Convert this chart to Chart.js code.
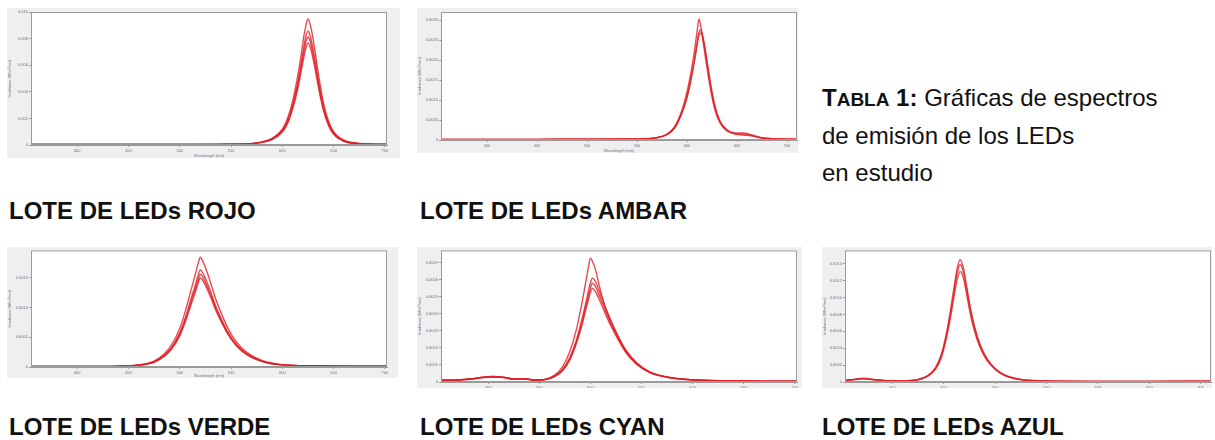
<!DOCTYPE html>
<html>
<head>
<meta charset="utf-8">
<script src="https://cdn.jsdelivr.net/npm/chart.js@4"></script>
<style>
    body { margin: 0; background: #fff; width: 1215px; height: 440px; position: relative; overflow: hidden;
           font-family: 'Liberation Sans', Arial, sans-serif; }
    .panel { position: absolute; background: #efefef; }
    .panel canvas { display: block; }
    .label { position: absolute; font-weight: bold; font-size: 24px; line-height: 24px; color: #111; white-space: nowrap; }
    .caption { position: absolute; font-size: 24px; line-height: 24px; color: #111; white-space: nowrap; }
    .caption b .sc { font-size: 19px; }
</style>
</head>
<body>

<div class="panel" style="left:7px;top:8px;"><canvas id="rojoChart" width="393" height="150"></canvas></div>
<div class="panel" style="left:417px;top:8px;"><canvas id="ambarChart" width="381" height="145"></canvas></div>
<div class="panel" style="left:7px;top:247px;"><canvas id="verdeChart" width="391" height="131"></canvas></div>
<div class="panel" style="left:417px;top:247px;"><canvas id="cyanChart" width="385" height="141"></canvas></div>
<div class="panel" style="left:822px;top:247px;"><canvas id="azulChart" width="390" height="141"></canvas></div>

<div class="label" style="left:9px;top:199px;">LOTE DE LEDs ROJO</div>
<div class="label" style="left:420px;top:199px;">LOTE DE LEDs AMBAR</div>
<div class="label" style="left:9px;top:415px;">LOTE DE LEDs VERDE</div>
<div class="label" style="left:420px;top:415px;">LOTE DE LEDs CYAN</div>
<div class="label" style="left:822px;top:415px;">LOTE DE LEDs AZUL</div>

<div class="caption" style="left:822px;top:86px;"><b>T<span class="sc">ABLA</span> 1:</b> Gráficas de espectros</div>
<div class="caption" style="left:822px;top:124px;">de emisión de los LEDs</div>
<div class="caption" style="left:822px;top:161px;">en estudio</div>

<script>
// eje x común (nm)
const xTicks = [400, 450, 500, 550, 600, 650, 700];
const xTitle = 'Wavelength (nm)';
const yTitle = 'Irradiance (W/m²/nm)';

// ROJO
const rojoWl = [355, 400, 450, 500, 550, 570, 580, 590, 600, 605, 610, 615, 618, 621, 623, 625, 627, 629, 632, 635, 640, 645, 650, 660, 675, 702];
const rojo1 = [0.02, 0.02, 0.02, 0.02, 0.03, 0.06, 0.12, 0.25, 0.6, 1.0, 1.65, 2.6, 3.3, 4.1, 4.5, 4.74, 4.55, 4.2, 3.5, 2.7, 1.6, 0.9, 0.5, 0.18, 0.06, 0.03];
const rojo2 = [0.02, 0.02, 0.02, 0.02, 0.03, 0.05, 0.11, 0.23, 0.55, 0.9, 1.5, 2.35, 3.0, 3.7, 4.1, 4.29, 4.12, 3.8, 3.17, 2.45, 1.45, 0.82, 0.45, 0.16, 0.05, 0.03];
const rojo3 = [0.02, 0.02, 0.02, 0.02, 0.03, 0.05, 0.1, 0.22, 0.52, 0.86, 1.42, 2.23, 2.85, 3.5, 3.88, 4.06, 3.92, 3.6, 3.0, 2.32, 1.37, 0.77, 0.43, 0.15, 0.05, 0.02];
const rojo4 = [0.02, 0.02, 0.02, 0.02, 0.03, 0.05, 0.1, 0.2, 0.49, 0.8, 1.34, 2.1, 2.7, 3.3, 3.65, 3.83, 3.7, 3.4, 2.84, 2.2, 1.3, 0.73, 0.4, 0.14, 0.05, 0.02];
const rojoYLabels = ['0', '0.002', '0.004', '0.006', '0.008', '0.010'];

// AMBAR
const ambarWl = [354, 400, 450, 500, 550, 570, 580, 588, 595, 600, 604, 607, 610, 612, 614, 617, 620, 624, 628, 633, 640, 648, 656, 665, 675, 690, 710];
const ambar1 = [0.03, 0.03, 0.03, 0.04, 0.05, 0.12, 0.3, 0.7, 1.5, 2.4, 3.4, 4.3, 5.4, 6.05, 5.6, 4.6, 3.6, 2.4, 1.5, 0.85, 0.45, 0.3, 0.25, 0.2, 0.1, 0.05, 0.04];
const ambar2 = [0.03, 0.03, 0.03, 0.04, 0.05, 0.12, 0.28, 0.65, 1.4, 2.2, 3.1, 3.9, 4.85, 5.4, 5.5, 4.9, 3.95, 2.7, 1.7, 0.95, 0.5, 0.32, 0.3, 0.22, 0.1, 0.05, 0.04];
const ambar3 = [0.03, 0.03, 0.03, 0.04, 0.05, 0.11, 0.27, 0.62, 1.35, 2.1, 3.0, 3.8, 4.7, 5.25, 5.35, 4.8, 3.85, 2.6, 1.6, 0.9, 0.48, 0.35, 0.35, 0.25, 0.12, 0.05, 0.04];
const ambarYLabels = ['0', '0.0005', '0.0010', '0.0015', '0.0020', '0.0025', '0.0030'];

// VERDE
const verdeWl = [355, 400, 440, 460, 475, 485, 492, 500, 506, 511, 515, 518, 520, 522, 525, 530, 535, 540, 547, 555, 565, 580, 600, 630, 670, 702];
const verde1 = [0.02, 0.02, 0.03, 0.07, 0.2, 0.45, 0.75, 1.3, 1.95, 2.6, 3.1, 3.5, 3.7, 3.6, 3.35, 2.85, 2.3, 1.85, 1.3, 0.85, 0.5, 0.22, 0.08, 0.04, 0.03, 0.03];
const verde2 = [0.02, 0.02, 0.03, 0.06, 0.18, 0.4, 0.66, 1.15, 1.72, 2.3, 2.74, 3.1, 3.27, 3.2, 2.98, 2.55, 2.06, 1.66, 1.17, 0.77, 0.45, 0.2, 0.07, 0.04, 0.03, 0.03];
const verde3 = [0.02, 0.02, 0.03, 0.06, 0.17, 0.38, 0.63, 1.1, 1.65, 2.2, 2.62, 2.96, 3.13, 3.06, 2.86, 2.45, 1.98, 1.6, 1.13, 0.74, 0.43, 0.19, 0.07, 0.04, 0.03, 0.03];
const verde4 = [0.02, 0.02, 0.03, 0.06, 0.16, 0.36, 0.6, 1.05, 1.58, 2.1, 2.5, 2.84, 3.0, 2.94, 2.75, 2.36, 1.92, 1.55, 1.1, 0.72, 0.42, 0.19, 0.07, 0.04, 0.03, 0.03];
const verdeYLabels = ['0', '0.0005', '0.0010', '0.0015'];

// CYAN
const cyanWl = [354, 370, 385, 395, 405, 415, 425, 435, 445, 455, 465, 473, 480, 486, 491, 495, 498, 500, 502, 505, 509, 514, 520, 527, 535, 545, 558, 575, 600, 630, 670, 702];
const cyan1 = [0.1, 0.12, 0.2, 0.28, 0.32, 0.28, 0.18, 0.2, 0.12, 0.15, 0.4, 0.9, 1.8, 3.0, 4.4, 5.7, 6.7, 7.27, 7.1, 6.6, 5.6, 4.5, 3.6, 2.7, 1.8, 1.1, 0.55, 0.28, 0.12, 0.07, 0.05, 0.05];
const cyan2 = [0.1, 0.12, 0.2, 0.28, 0.32, 0.28, 0.18, 0.2, 0.12, 0.14, 0.35, 0.75, 1.45, 2.4, 3.5, 4.5, 5.3, 5.8, 6.1, 5.9, 5.3, 4.5, 3.6, 2.7, 1.85, 1.15, 0.6, 0.3, 0.13, 0.07, 0.05, 0.05];
const cyan3 = [0.1, 0.12, 0.19, 0.27, 0.3, 0.27, 0.17, 0.19, 0.12, 0.14, 0.33, 0.7, 1.38, 2.3, 3.3, 4.3, 5.05, 5.5, 5.8, 5.6, 5.05, 4.3, 3.45, 2.6, 1.78, 1.1, 0.58, 0.29, 0.13, 0.07, 0.05, 0.05];
const cyan4 = [0.1, 0.11, 0.18, 0.26, 0.29, 0.26, 0.17, 0.18, 0.11, 0.13, 0.31, 0.67, 1.3, 2.2, 3.15, 4.1, 4.8, 5.25, 5.5, 5.3, 4.8, 4.1, 3.3, 2.5, 1.7, 1.05, 0.56, 0.28, 0.12, 0.07, 0.05, 0.05];
const cyanYLabels = ['0', '0.0001', '0.0002', '0.0003', '0.0004', '0.0005', '0.0006', '0.0007'];

// AZUL
const azulWl = [354, 362, 372, 382, 395, 410, 425, 435, 442, 448, 453, 457, 460, 463, 466, 469, 472, 476, 480, 485, 492, 500, 510, 525, 550, 600, 650, 710];
const azul1 = [0.1, 0.15, 0.22, 0.15, 0.08, 0.06, 0.15, 0.4, 0.85, 1.7, 3.0, 4.4, 5.6, 6.7, 7.25, 6.8, 5.8, 4.4, 3.3, 2.3, 1.4, 0.8, 0.4, 0.15, 0.06, 0.04, 0.04, 0.05];
const azul2 = [0.1, 0.14, 0.2, 0.14, 0.08, 0.06, 0.14, 0.38, 0.8, 1.6, 2.85, 4.2, 5.35, 6.4, 6.96, 6.55, 5.6, 4.25, 3.2, 2.2, 1.35, 0.78, 0.38, 0.15, 0.06, 0.04, 0.04, 0.05];
const azul3 = [0.09, 0.13, 0.19, 0.13, 0.07, 0.06, 0.13, 0.36, 0.76, 1.5, 2.7, 3.95, 5.05, 6.05, 6.55, 6.2, 5.3, 4.0, 3.0, 2.1, 1.28, 0.74, 0.36, 0.14, 0.06, 0.04, 0.04, 0.05];
const azulYLabels = ['0', '0.0002', '0.0004', '0.0006', '0.0008', '0.0010', '0.0012', '0.0014'];

const plotFrame = {
    id: 'plotFrame',
    beforeDatasetsDraw(chart) {
        const a = chart.chartArea, c = chart.ctx;
        c.save();
        c.fillStyle = '#ffffff';
        c.fillRect(a.left, a.top, a.right - a.left, a.bottom - a.top);
        c.restore();
    },
    afterDraw(chart) {
        const a = chart.chartArea, c = chart.ctx;
        c.save();
        c.strokeStyle = '#9a9a9a';
        c.lineWidth = 1;
        c.strokeRect(a.left + 0.5, a.top + 0.5, a.right - a.left - 1, a.bottom - a.top - 1);
        c.restore();
    }
};

function renderSpectrum(id, wl, series, yLabels, opt) {
    const ctx = document.getElementById(id).getContext('2d');
    const tickFont = { size: 4, family: 'Liberation Sans' };
    return new Chart(ctx, {
        type: 'line',
        data: {
            datasets: series.map(s => ({
                data: s.map((v, i) => ({ x: wl[i], y: v })),
                borderColor: 'rgba(222, 30, 36, 0.8)',
                borderWidth: 1.4,
                pointRadius: 0,
                fill: false,
                cubicInterpolationMode: 'monotone'
            }))
        },
        options: {
            responsive: false,
            animation: false,
            events: [],
            layout: { padding: { top: opt.top, right: opt.right, left: 0, bottom: 0 } },
            plugins: { legend: { display: false }, tooltip: { enabled: false } },
            scales: {
                x: {
                    type: 'linear',
                    min: opt.xMin,
                    max: opt.xMax,
                    afterFit: s => { s.height = opt.bottom; },
                    afterBuildTicks: s => { s.ticks = xTicks.map(v => ({ value: v })); },
                    ticks: { font: tickFont, color: '#6a7088', padding: 1, maxRotation: 0, autoSkip: false },
                    grid: { drawOnChartArea: false, tickLength: 2, color: '#999' },
                    border: { color: '#9a9a9a' },
                    title: { display: opt.bottom > 8, text: xTitle, font: tickFont, color: '#6a7088', padding: 0 }
                },
                y: {
                    min: 0,
                    max: opt.yMax,
                    afterFit: s => { s.width = opt.left; },
                    afterBuildTicks: s => { s.ticks = yLabels.map((l, i) => ({ value: i })); },
                    ticks: { font: tickFont, color: '#6a7088', padding: 1, callback: (v, i) => yLabels[i] },
                    grid: { drawOnChartArea: false, tickLength: 2, color: '#999' },
                    border: { color: '#9a9a9a' },
                    title: { display: true, text: yTitle, font: tickFont, color: '#6a7088', padding: 0 }
                }
            }
        },
        plugins: [plotFrame]
    });
}

renderSpectrum('rojoChart', rojoWl, [rojo1, rojo2, rojo3, rojo4], rojoYLabels,
    { xMin: 355, xMax: 702, yMax: 5, left: 24, top: 4, right: 13, bottom: 13 });
renderSpectrum('ambarChart', ambarWl, [ambar1, ambar2, ambar3], ambarYLabels,
    { xMin: 354, xMax: 710, yMax: 6.4, left: 24, top: 4, right: 1, bottom: 13 });
renderSpectrum('verdeChart', verdeWl, [verde1, verde2, verde3, verde4], verdeYLabels,
    { xMin: 355, xMax: 702, yMax: 3.93, left: 24, top: 2, right: 11, bottom: 11 });
renderSpectrum('cyanChart', cyanWl, [cyan1, cyan2, cyan3, cyan4], cyanYLabels,
    { xMin: 354, xMax: 702, yMax: 7.73, left: 24, top: 2, right: 5, bottom: 6 });
renderSpectrum('azulChart', azulWl, [azul1, azul2, azul3], azulYLabels,
    { xMin: 354, xMax: 710, yMax: 7.8, left: 23, top: 2, right: 1, bottom: 6 });
</script>
</body>
</html>
